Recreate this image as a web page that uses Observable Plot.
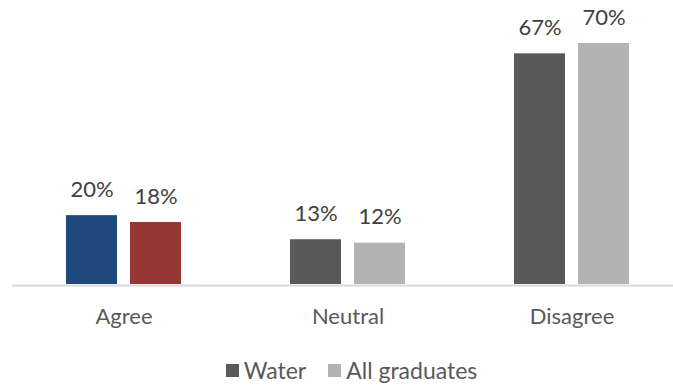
<!DOCTYPE html>
<html>
<head>
<meta charset="utf-8">
<script src="https://cdn.jsdelivr.net/npm/d3@7"></script>
<script src="https://cdn.jsdelivr.net/npm/@observablehq/plot@0.6"></script>
<style>
  body { margin: 0; background: #fff; font-family: Lato, "Liberation Sans", sans-serif; }
  #legend { display: flex; justify-content: center; align-items: center; gap: 22px; margin-top: 11px; padding-left: 30px; font-size: 23px; color: #595959; }
  #legend .item { display: flex; align-items: center; gap: 5px; }
  #legend .sw { width: 13px; height: 13px; display: inline-block; }
</style>
</head>
<body>
<div id="chart"></div>
<div id="legend"></div>
<script>
const categories = ["Agree", "Neutral", "Disagree"];
const seriesNames = ["Water", "All graduates"];
const water = [20, 13, 67];
const allGraduates = [18, 12, 70];

const DARK = "#595959", LIGHT = "#b3b3b3", BLUE = "#1f497d", RED = "#953735";

const rowsWater = categories.map((c, i) => ({cat: c, v: water[i]}));
const rowsAll = categories.map((c, i) => ({cat: c, v: allGraduates[i]}));

const plot = Plot.plot({
  width: 673,
  height: 345,
  marginLeft: 12,
  marginRight: 0,
  marginBottom: 60,
  style: {fontFamily: "Lato, 'Liberation Sans', sans-serif", fontSize: "22px", color: "#595959", background: "#fff"},
  x: {domain: categories, range: [12, 684], paddingInner: 0.4866, paddingOuter: 0.2433, label: null, tickSize: 0, tickPadding: 23},
  y: {domain: [0, 70], range: [284, 43], axis: null},
  marks: [
    Plot.barY(rowsWater, {x: "cat", y: "v", insetRight: 64, fill: d => d.cat === "Agree" ? BLUE : DARK}),
    Plot.barY(rowsAll, {x: "cat", y: "v", insetLeft: 64, fill: d => d.cat === "Agree" ? RED : LIGHT}),
    Plot.ruleY([0], {stroke: "#d9d9d9", strokeWidth: 2, dy: 1}),
    Plot.text(rowsWater, {x: "cat", y: "v", text: d => d.v + "%", dx: -32, dy: -26, fill: "#404040", fontSize: 22}),
    Plot.text(rowsAll, {x: "cat", y: "v", text: d => d.v + "%", dx: 32, dy: -26, fill: "#404040", fontSize: 22})
  ]
});
document.getElementById("chart").appendChild(plot);

const legendColors = [DARK, LIGHT];
const legend = document.getElementById("legend");
seriesNames.forEach((name, i) => {
  const item = document.createElement("span");
  item.className = "item";
  const sw = document.createElement("span");
  sw.className = "sw";
  sw.style.background = legendColors[i];
  item.appendChild(sw);
  item.appendChild(document.createTextNode(name));
  legend.appendChild(item);
});
</script>
</body>
</html>
